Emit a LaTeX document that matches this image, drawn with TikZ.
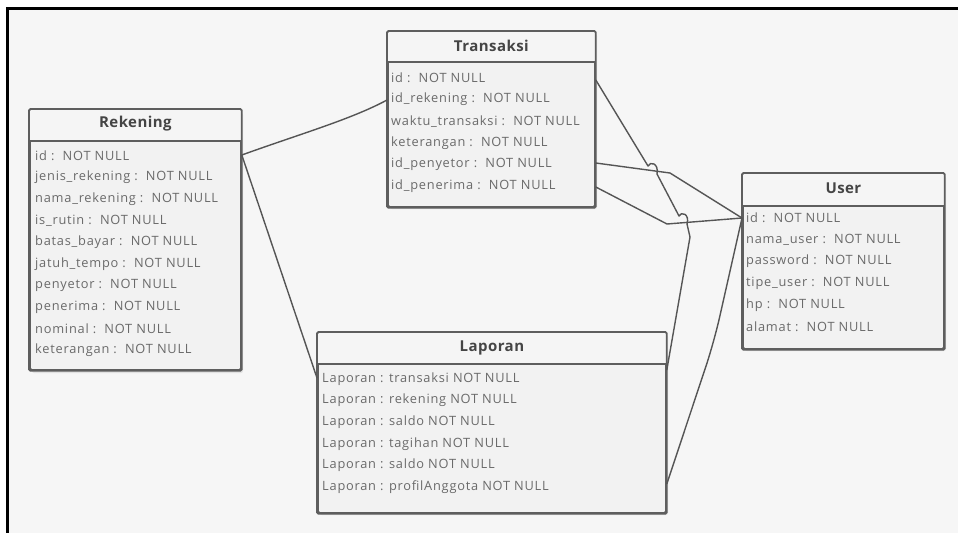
\documentclass[tikz,border=0pt]{standalone}
\usepackage{fontspec}
\setmainfont{Open Sans}
\newfontfamily\rowfont[LetterSpace=6]{Open Sans}
\newfontfamily\ttlfont[LetterSpace=3]{Open Sans Bold}
\usetikzlibrary{calc}
\definecolor{bgc}{HTML}{F6F6F6}
\definecolor{boxfill}{HTML}{F2F2F2}
\definecolor{hdrfill}{HTML}{F5F5F5}
\definecolor{edge}{HTML}{5E5E5E}
\definecolor{txt}{HTML}{6A6A6A}
\definecolor{ttl}{HTML}{454545}
\definecolor{wire}{HTML}{555555}
\tikzset{
  ent/.style={draw=edge, line width=1.8pt, fill=boxfill, rounded corners=1.5pt, inner sep=0pt, anchor=north west},
  shade/.style={fill=black, opacity=0.08, rounded corners=2pt},
  ttlnode/.style={font=\ttlfont\fontsize{15}{17}\selectfont, text=ttl, inner sep=0pt},
  row/.style={font=\rowfont\fontsize{12.8}{14}\selectfont, text=txt, inner sep=0pt, anchor=west},
  wireline/.style={draw=wire, line width=1.4pt, line join=round},
  sepline/.style={draw=edge, line width=1.6pt}
}
\begin{document}
\begin{tikzpicture}[x=1pt,y=-1pt]
\useasboundingbox (0,0) rectangle (958,533);
\fill[white] (0,0) rectangle (958,533);
\fill[bgc] (7,8) rectangle (958,533);
\draw[black, line width=3pt] (6,8.5) -- (958,8.5);
\draw[black, line width=3pt] (7.5,7) -- (7.5,533);

% shadows
\fill[shade] (32,113) rectangle (243,373);
\fill[shade] (390,34) rectangle (597,209);
\fill[shade] (745,176) rectangle (946,351);
\fill[shade] (320,335) rectangle (668,515);

% entities
\node[ent, minimum width=211pt, minimum height=260pt] (rek) at (29,109) {};
\node[ent, minimum width=207pt, minimum height=175pt] (tra) at (387,31) {};
\node[ent, minimum width=201pt, minimum height=175pt] (usr) at (742,173) {};
\node[ent, minimum width=348pt, minimum height=180pt] (lap) at (317,332) {};

% header fills and separators
\fill[hdrfill] ($(rek.north west)+(1,1)$) rectangle ($(rek.north east)+(-1,32)$);
\draw[sepline] ($(rek.north west)+(0,32)$) -- ($(rek.north east)+(0,32)$);
\fill[hdrfill] ($(tra.north west)+(1,1)$) rectangle ($(tra.north east)+(-1,31)$);
\draw[sepline] ($(tra.north west)+(0,31)$) -- ($(tra.north east)+(0,31)$);
\fill[hdrfill] ($(usr.north west)+(1,1)$) rectangle ($(usr.north east)+(-1,33)$);
\draw[sepline] ($(usr.north west)+(0,33)$) -- ($(usr.north east)+(0,33)$);
\fill[hdrfill] ($(lap.north west)+(1,1)$) rectangle ($(lap.north east)+(-1,32)$);
\draw[sepline] ($(lap.north west)+(0,32)$) -- ($(lap.north east)+(0,32)$);
\draw[draw=edge, line width=1.8pt, rounded corners=1.5pt] (rek.north west) rectangle (rek.south east);
\draw[draw=edge, line width=1.8pt, rounded corners=1.5pt] (tra.north west) rectangle (tra.south east);
\draw[draw=edge, line width=1.8pt, rounded corners=1.5pt] (usr.north west) rectangle (usr.south east);
\draw[draw=edge, line width=1.8pt, rounded corners=1.5pt] (lap.north west) rectangle (lap.south east);

% titles
\node[ttlnode] (rekT) at ($(rek.north)+(0,15)$) {Rekening};
\node[ttlnode] (traT) at ($(tra.north)+(0,14.5)$) {Transaksi};
\node[ttlnode] (usrT) at ($(usr.north)+(0,15.5)$) {User};
\node[ttlnode] (lapT) at ($(lap.north)+(0,15.5)$) {Laporan};

% rows
\foreach \t [count=\i from 0] in {id :\ \ NOT NULL, jenis\_rekening :\ \ NOT NULL, nama\_rekening :\ \ NOT NULL, is\_rutin :\ \ NOT NULL, batas\_bayar :\ \ NOT NULL, jatuh\_tempo :\ \ NOT NULL, penyetor :\ \ NOT NULL, penerima :\ \ NOT NULL, nominal :\ \ NOT NULL, keterangan :\ \ NOT NULL}
  \node[row] (rekr\i) at (35,156+21.6*\i) {\t};
\foreach \t [count=\i from 0] in {id :\ \ NOT NULL, id\_rekening :\ \ NOT NULL, waktu\_transaksi :\ \ NOT NULL, keterangan :\ \ NOT NULL, id\_penyetor :\ \ NOT NULL, id\_penerima :\ \ NOT NULL}
  \node[row] (trar\i) at (391,78+21.6*\i) {\t};
\foreach \t [count=\i from 0] in {id :\ \ NOT NULL, nama\_user :\ \ NOT NULL, password :\ \ NOT NULL, tipe\_user :\ \ NOT NULL, hp :\ \ NOT NULL, alamat :\ \ NOT NULL}
  \node[row] (usrr\i) at (746,218+21.8*\i) {\t};
\foreach \t [count=\i from 0] in {Laporan : transaksi NOT NULL, Laporan : rekening NOT NULL, Laporan : saldo NOT NULL, Laporan : tagihan NOT NULL, Laporan : saldo NOT NULL, Laporan : profilAnggota NOT NULL}
  \node[row] (lapr\i) at (322,379+21.6*\i) {\t};

% connector end points
\coordinate (r1) at (rek.east |- 0,155);
\coordinate (t1) at (tra.west |- 0,100);
\coordinate (l1) at (lap.west |- 0,378);
\coordinate (t2) at (tra.east |- 0,80);
\coordinate (l2) at (lap.east |- 0,370);
\coordinate (t3) at (tra.east |- 0,163);
\coordinate (t4) at (tra.east |- 0,187);
\coordinate (u1) at (usr.west |- 0,218);
\coordinate (l3) at (lap.east |- 0,484);

% connectors
\draw[wireline] (r1) .. controls (300,134) and (352,119) .. (t1);
\draw[wireline] (r1) -- (l1);
\draw[wireline] (t2) -- (648,166) .. controls (650,161) and (659,163) .. (657,174) -- (679,216) .. controls (681,211) and (690,214) .. (687,224) -- (690,237) -- (l2);
\draw[wireline] (t3) -- (670,173) -- (u1);
\draw[wireline] (t4) -- (667,224) -- (u1);
\draw[wireline, rounded corners=25pt] (u1) -- (714,342) -- (l3);
\end{tikzpicture}
\end{document}
